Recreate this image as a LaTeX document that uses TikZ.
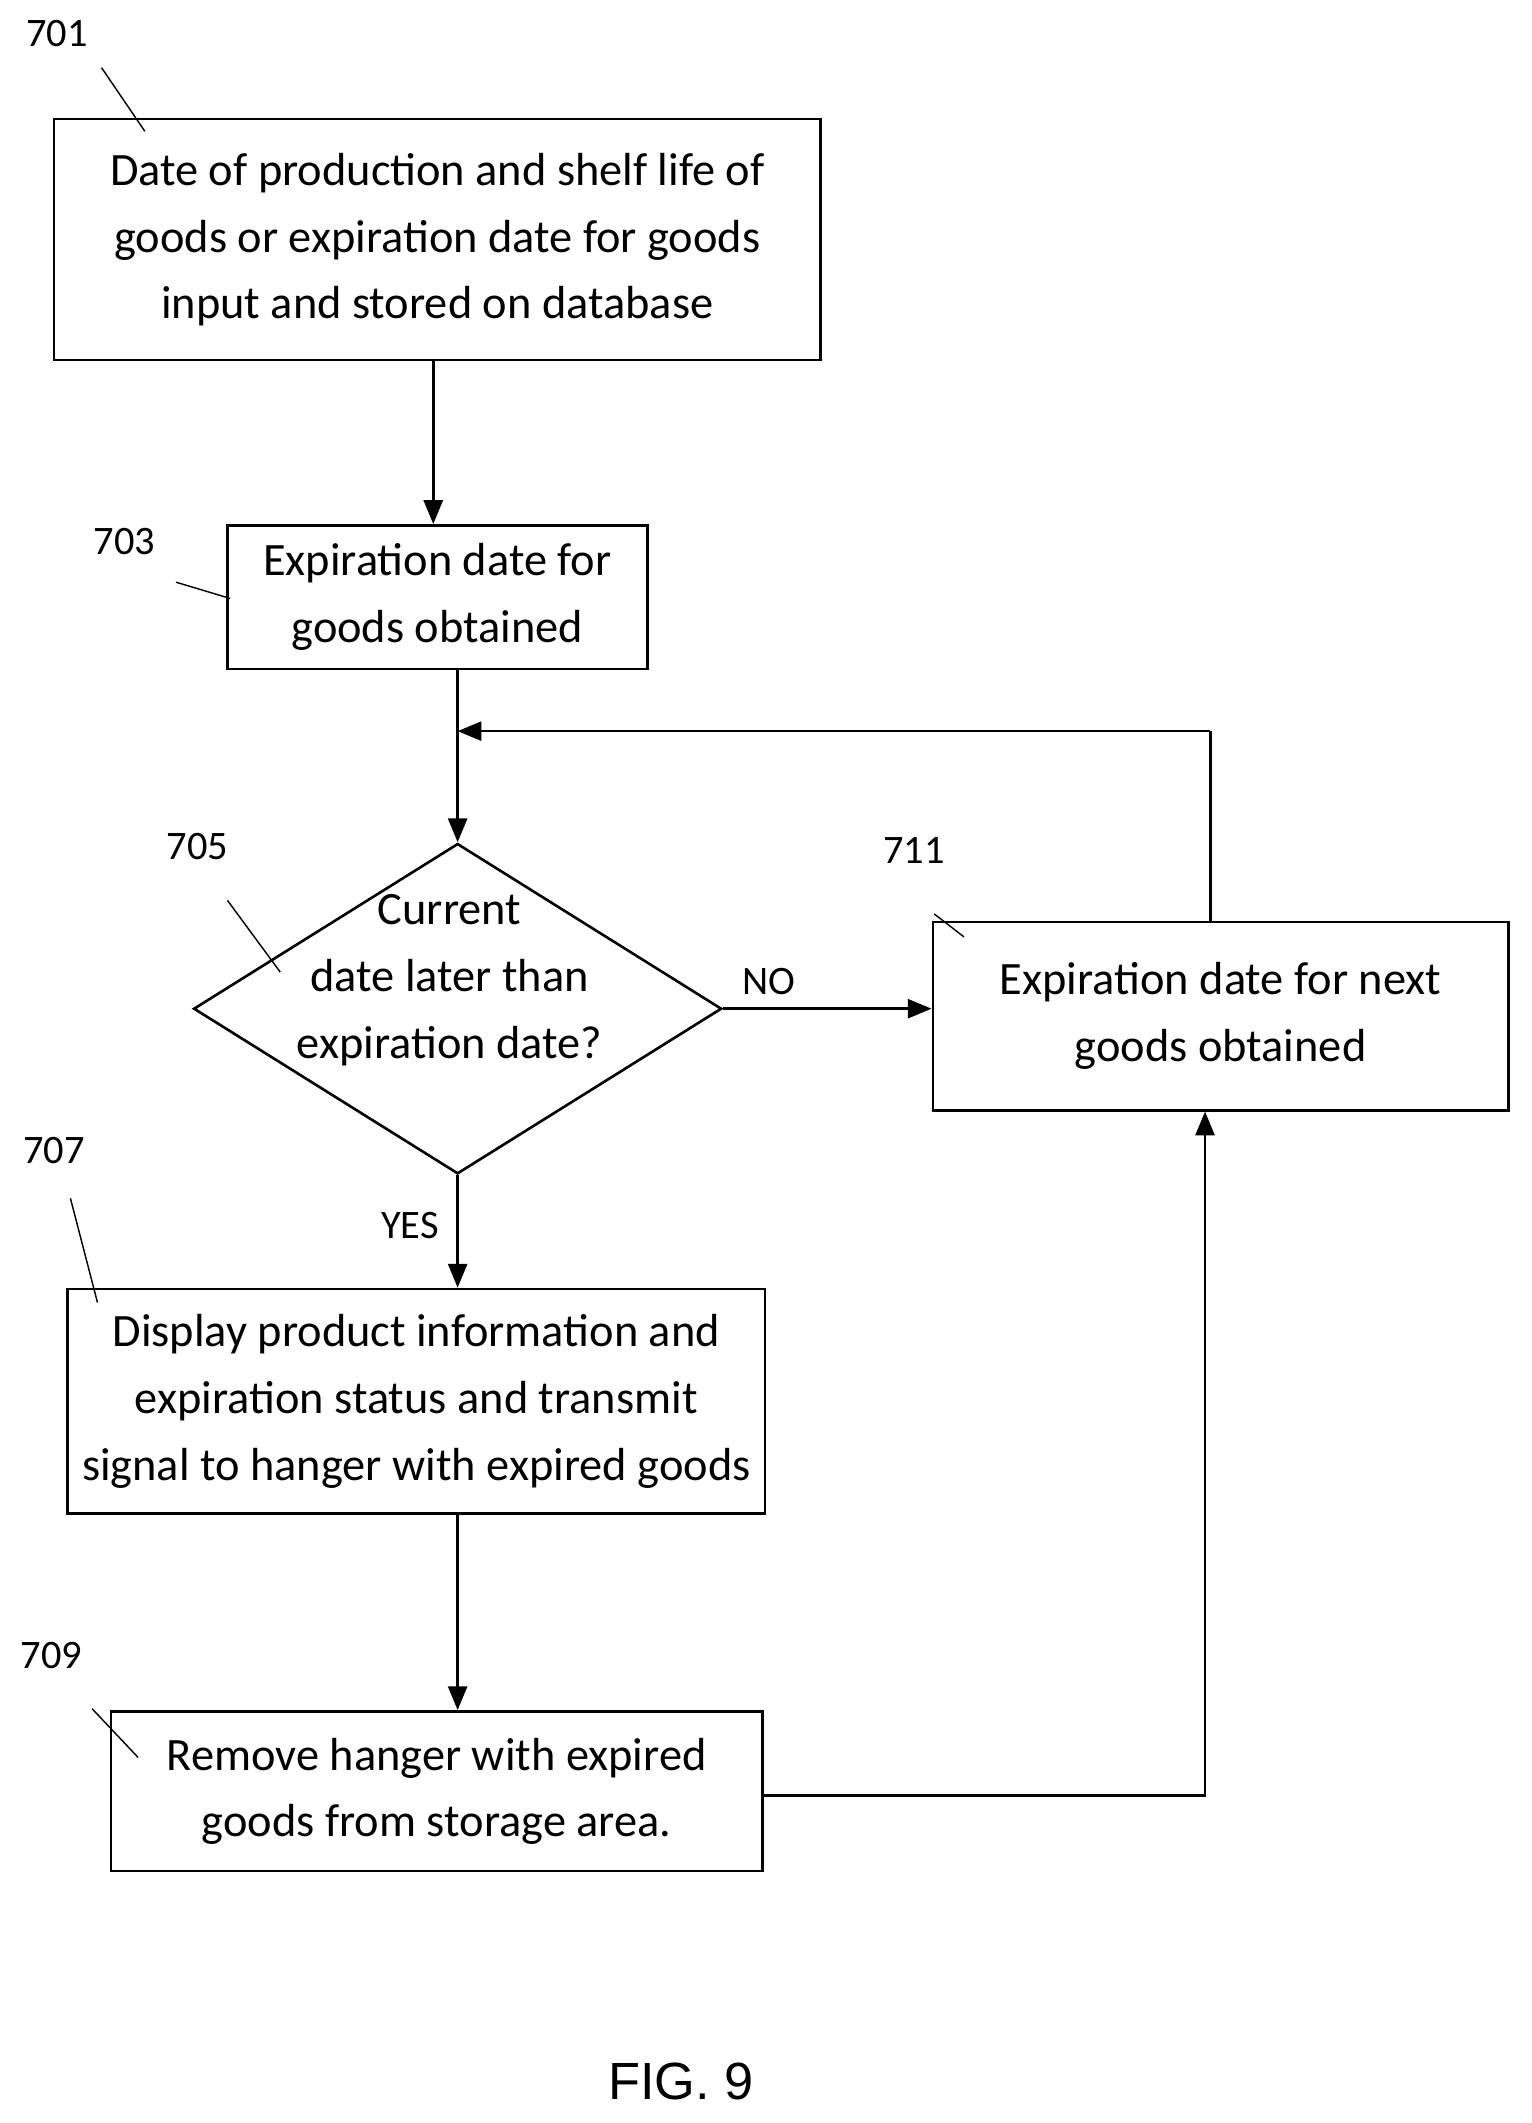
\documentclass[tikz,border=0pt]{standalone}
\usepackage{fontspec}
\setmainfont{Carlito}
\newfontfamily\figfont{Liberation Sans}
\usetikzlibrary{shapes.geometric,arrows.meta}
\begin{document}
\begin{tikzpicture}[x=0.02cm,y=-0.02cm,
  box/.style={draw,line width=1.1pt,align=center,font=\fontsize{19.5}{28}\selectfont,inner sep=0pt},
  lbl/.style={font=\fontsize{17}{20}\selectfont},
  arr/.style={line width=1.1pt,-{Triangle[length=10pt,width=8pt]}},
  lead/.style={line width=0.6pt}]
\useasboundingbox (0,0) rectangle (1131,1568);
\node[box,minimum width=566*0.02cm,minimum height=178*0.02cm] (b701) at (323,177) {Date of production and shelf life of\\goods or expiration date for goods\\input and stored on database};
\node[box,minimum width=310*0.02cm,minimum height=106*0.02cm] (b703) at (323,441) {Expiration date for\\goods obtained};
\node[draw,line width=1.1pt,diamond,aspect=1.6,minimum width=390*0.02cm,minimum height=244*0.02cm,inner sep=0pt] (d705) at (338,745) {};
\node[box,draw=none] (t705) at (332,724) {Current\\date later than\\expiration date?};
\node[box,minimum width=425*0.02cm,minimum height=139*0.02cm] (b711) at (901.5,750.5) {Expiration date for next\\goods obtained};
\node[box,minimum width=515*0.02cm,minimum height=166*0.02cm] (b707) at (307.5,1035) {Display product information and\\expiration status and transmit\\signal to hanger with expired goods};
\node[box,minimum width=481*0.02cm,minimum height=118*0.02cm] (b709) at (322.5,1323) {Remove hanger with expired\\goods from storage area.};
\coordinate (loopA) at (894,540);
\coordinate (loopB) at (338,540);
\coordinate (retA) at (890,1326);
\draw[arr] (b701.south -| 320,0) -- (b703.north -| 320,0);
\draw[line width=1.1pt] (b703.south -| 338,0) -- (loopB);
\draw[line width=1.1pt] (b711.north -| loopA) -- (loopA);
\draw[arr] (loopA) -- (loopB);
\draw[arr] (loopB) -- (d705.north);
\draw[arr] (d705.east) -- (b711.west |- d705.east) node[pos=0.22,above,lbl,yshift=2pt]{NO};
\draw[arr] (d705.south) -- (b707.north -| d705.south) node[pos=0.45,left,lbl,xshift=-4pt]{YES};
\draw[arr] (b707.south -| 338,0) -- (b709.north -| 338,0);
\draw[arr] (b709.east |- retA) -- (retA) -- (b711.south -| retA);
\node[lbl] (n701) at (42,25) {701}; \draw[lead] (75,50) -- (107,97);
\node[lbl] (n703) at (92,400) {703}; \draw[lead] (130,430) -- (170,442);
\node[lbl] (n705) at (146,625) {705}; \draw[lead] (168,665) -- (207,718);
\node[lbl] (n711) at (675,628) {711}; \draw[lead] (690,675) -- (712,692);
\node[lbl] (n707) at (40,850) {707}; \draw[lead] (52,885) -- (72,962);
\node[lbl] (n709) at (38,1223) {709}; \draw[lead] (68,1262) -- (102,1298);
\node[font=\figfont\fontsize{22}{26}\selectfont] (fig) at (503,1537) {FIG. 9};
\end{tikzpicture}
\end{document}
